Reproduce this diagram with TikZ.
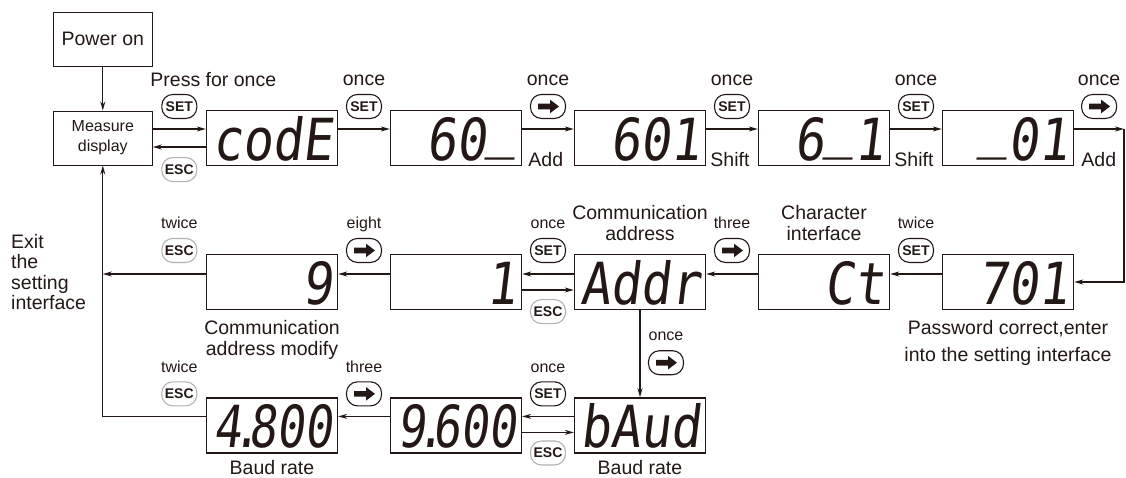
\documentclass[tikz,border=0pt]{standalone}
\usepackage{fontspec}
\setmainfont{Liberation Sans}
\newfontfamily\segfont[FakeStretch=0.86,FakeSlant=0.12]{DejaVu Sans Mono}
\newfontfamily\segnarrow[FakeStretch=0.8,FakeSlant=0.12]{DejaVu Sans Mono}
\usepackage{xcolor}
\usetikzlibrary{arrows.meta,positioning,calc}
\definecolor{ink}{RGB}{35,24,21}
\newcommand\segus{\raisebox{.24em}{\_}}
\newcommand\segdot{\kern-.15em.\kern-.2em}

\begin{document}
\begin{tikzpicture}[
  x=1pt,y=1pt,
  font=\fontsize{19.5}{20.5}\selectfont,
  >={Stealth[length=9pt,width=5pt]},
  box/.style={draw=ink,line width=1pt,minimum width=99pt,minimum height=54pt,align=center,text=ink},
  disp/.style={draw=ink,line width=1.4pt,inner xsep=5pt,inner ysep=5.5pt,text width=121pt,align=right,
               text height=44pt,text depth=0pt,font=\segfont\fontsize{58}{58}\selectfont,text=ink},
  btn/.style={draw=ink,line width=1.1pt,rounded corners=11pt,minimum width=35pt,minimum height=24pt,
              inner sep=0pt,font=\fontsize{14}{14}\selectfont\bfseries,text=ink},
  escbtn/.style={btn,draw=gray!60},
  arrbtn/.style={btn,path picture={\fill[ink,sharp corners] ([shift={(-10pt,-2.8pt)}]path picture bounding box.center)
      -- ++(12pt,0pt) -- ++(0pt,-4pt) -- ++(9pt,6.8pt) -- ++(-9pt,6.8pt) -- ++(0pt,-4pt) -- ++(-12pt,0pt) -- cycle;}},
  lbl/.style={inner sep=0pt,text=ink},
  toplbl/.style={lbl,text depth=0pt},
  sml/.style={lbl,text depth=0pt,font=\fontsize{16}{18}\selectfont},
  line/.style={->,draw=ink,line width=1.3pt}
]
\useasboundingbox (0,0) rectangle (1126,-477);

% ---- top row ----
\node[disp] (code) at (272,-138) {codE};
\node[disp,right=51.6pt of code] (d60) {60\segus};
\node[disp,right=51.6pt of d60] (d601) {601};
\node[disp,right=51.6pt of d601] (d61) {6\segus 1};
\node[disp,right=51.6pt of d61] (d01) {\segus 01};
\node[box,left=53pt of code,font=\fontsize{16}{20}\selectfont] (meas) {Measure\\display};
\node[box,above=44pt of meas] (pwr) {Power on};

% ---- middle row ----
\node[disp,below=87.6pt of code] (d9) {9};
\node[disp,right=51.6pt of d9] (d1) {1};
\node[disp,right=51.6pt of d1] (addr) {Addr};
\node[disp,right=51.6pt of addr] (ct) {Ct};
\node[disp,right=51.6pt of ct] (d701) {701};

% ---- bottom row ----
\node[disp,below=87pt of d9] (d48) {\segnarrow 4\segdot 800};
\node[disp,right=51.6pt of d48] (d96) {\segnarrow 9\segdot 600};
\node[disp,right=51.6pt of d96] (baud) {bAud};

% ---- top row path ----
\draw[line] (pwr) -- (meas);
\draw[line] ([yshift=9pt]meas.east) -- ([yshift=9pt]code.west);
\draw[line] ([yshift=-9pt]code.west) -- ([yshift=-9pt]meas.east);
\draw[line] ([yshift=9pt]code.east) -- ([yshift=9pt]d60.west);
\draw[line] ([yshift=9pt]d60.east) -- ([yshift=9pt]d601.west);
\draw[line] ([yshift=9pt]d601.east) -- ([yshift=9pt]d61.west);
\draw[line] ([yshift=9pt]d61.east) -- ([yshift=9pt]d01.west);

\coordinate (rtop) at (1124,-129);
\coordinate (rmid) at (rtop |- d701.east);
\draw[line] ([yshift=9pt]d01.east) -- (rtop);
\draw[line] (rtop) -- (rmid) -- (d701.east);

% ---- middle row path ----
\draw[line] ([yshift=8pt]d701.west) -- ([yshift=8pt]ct.east);
\draw[line] ([yshift=8pt]ct.west) -- ([yshift=8pt]addr.east);
\draw[line] ([yshift=8pt]addr.west) -- ([yshift=8pt]d1.east);
\draw[line] ([yshift=-8pt]d1.east) -- ([yshift=-8pt]addr.west);
\draw[line] ([yshift=8pt]d1.west) -- ([yshift=8pt]d9.east);
\coordinate (a9) at ([yshift=8pt]d9.west);
\draw[line] (a9) -- (a9 -| meas.south);
\draw[line] (addr) -- (baud);

% ---- bottom row path ----
\draw[line] ([yshift=9pt]baud.west) -- ([yshift=9pt]d96.east);
\draw[line] ([yshift=-7pt]d96.east) -- ([yshift=-7pt]baud.west);
\draw[line] ([yshift=9pt]d96.west) -- ([yshift=9pt]d48.east);
\coordinate (a48) at ([yshift=9pt]d48.west);
\draw[line] (a48) -- (a48 -| meas.south) -- (meas.south);

% ---- keys, top row ----
\coordinate (g0) at ($(meas.east)!.5!(code.west)$);
\coordinate (g1) at ($(code.east)!.5!(d60.west)$);
\coordinate (g2) at ($(d60.east)!.5!(d601.west)$);
\coordinate (g3) at ($(d601.east)!.5!(d61.west)$);
\coordinate (g4) at ($(d61.east)!.5!(d01.west)$);
\coordinate (g5) at ($(d01.east)!.5!(rtop |- d01.east)$);
\node[btn,above=19pt of g0] (s0) {SET};
\node[escbtn,below=19pt of g0] (e0) {ESC};
\node[btn,above=19pt of g1] (s1) {SET};
\node[arrbtn,above=19pt of g2] (s2) {};
\node[btn,above=19pt of g3] (s3) {SET};
\node[btn,above=19pt of g4] (s4) {SET};
\node[arrbtn,above=19pt of g5] (s5) {};
\node[toplbl,above right=7pt and -11pt of s0.north west] {Press for once};
\node[toplbl,above=8pt of s1] {once};
\node[toplbl,above=8pt of s2] {once};
\node[toplbl,above=8pt of s3] {once};
\node[toplbl,above=8pt of s4] {once};
\node[toplbl,above=8pt of s5] {once};
\node[lbl,anchor=base west,xshift=6pt] at (d60.south east) {Add};
\node[lbl,anchor=base west,xshift=4pt] at (d601.south east) {Shift};
\node[lbl,anchor=base west,xshift=4pt] at (d61.south east) {Shift};
\node[lbl,anchor=base west,xshift=7pt] at (d01.south east) {Add};

% ---- keys, middle row ----
\coordinate (h0) at (g0 |- d9.west);
\coordinate (h1) at ($(d9.east)!.5!(d1.west)$);
\coordinate (h2) at ($(d1.east)!.5!(addr.west)$);
\coordinate (h3) at ($(addr.east)!.5!(ct.west)$);
\coordinate (h4) at ($(ct.east)!.5!(d701.west)$);
\node[escbtn,above=19pt of h0] (m0) {ESC};
\node[arrbtn,above=19pt of h1] (m1) {};
\node[btn,above=19pt of h2] (m2) {SET};
\node[escbtn,below=17pt of h2] (m2e) {ESC};
\node[arrbtn,above=19pt of h3] (m3) {};
\node[btn,above=19pt of h4] (m4) {SET};
\node[sml,above=9pt of m0] {twice};
\node[sml,above=9pt of m1] {eight};
\node[sml,above=9pt of m2] {once};
\node[sml,above=9pt of m3] {three};
\node[sml,above=9pt of m4] {twice};
\coordinate (v) at ($(addr.south)!.5!(baud.north)$);
\node[arrbtn] (vb) at ([shift={(26pt,-9pt)}]v) {};
\node[sml,above=9pt of vb] {once};

% ---- keys, bottom row ----
\coordinate (k0) at (g0 |- d48.west);
\coordinate (k1) at ($(d48.east)!.5!(d96.west)$);
\coordinate (k2) at ($(d96.east)!.5!(baud.west)$);
\node[escbtn,above=19pt of k0] (b0) {ESC};
\node[arrbtn,above=19pt of k1] (b1) {};
\node[btn,above=19pt of k2] (b2) {SET};
\node[escbtn,below=15pt of k2] (b2e) {ESC};
\node[sml,above=9pt of b0] {twice};
\node[sml,above=9pt of b1] {three};
\node[sml,above=9pt of b2] {once};

% ---- captions ----
\node[lbl,align=center,above=13pt of addr] {Communication\\address};
\node[lbl,align=center,above=13pt of ct] {Character\\interface};
\node[lbl,align=center,below=10pt of d9] {Communication\\address modify};
\node[lbl,align=center,below=10pt of d701,font=\fontsize{19.5}{27}\selectfont] {Password correct,enter\\into the setting interface};
\node[lbl,text depth=0pt,below=7pt of d48] {Baud rate};
\node[lbl,text depth=0pt,below=7pt of baud] {Baud rate};
\node[lbl,align=left,anchor=west] (exit) at (11,-272) {Exit\\the\\setting\\interface};

\end{tikzpicture}
\end{document}
